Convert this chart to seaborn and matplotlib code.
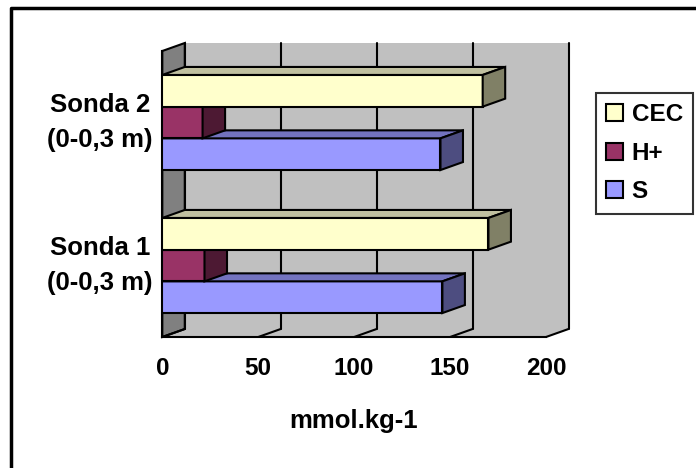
import numpy as np
import pandas as pd
import matplotlib
matplotlib.use("Agg")
import matplotlib.pyplot as plt
from matplotlib.patches import Polygon, Patch, Rectangle
from matplotlib.lines import Line2D
import seaborn as sns

# ---- data ----
categories = ["Sonda 2\n(0-0,3 m)", "Sonda 1\n(0-0,3 m)"]
series = ["CEC", "H+", "S"]
cec = [167, 170]
hplus = [21, 22]
s_vals = [145, 146]
x_ticks = [0, 50, 100, 150, 200]
x_label = "mmol.kg-1"

front_colors = {"CEC": "#FFFFCC", "H+": "#993366", "S": "#9999FF"}
top_colors = {"CEC": "#C0C0A0", "H+": "#73264D", "S": "#7373BF"}
side_colors = {"CEC": "#808066", "H+": "#4D1933", "S": "#4D4D80"}

df = pd.DataFrame({
    "cat": categories * 3,
    "series": ["CEC"] * 2 + ["H+"] * 2 + ["S"] * 2,
    "value": cec + hplus + s_vals,
})

sns.set_style("white")
plt.rcParams["font.family"] = ["Liberation Sans", "DejaVu Sans"]
plt.rcParams["font.weight"] = "bold"
for k in ["text.color", "axes.labelcolor", "xtick.color", "ytick.color",
          "xtick.labelcolor", "ytick.labelcolor"]:
    plt.rcParams[k] = "black"

W, H = 696, 468
fig = plt.figure(figsize=(W / 100, H / 100), dpi=100)
ax_left, ax_right, ax_top, ax_bot = 162.3, 546.0, 51.0, 337.0
ax = fig.add_axes([ax_left / W, 1 - ax_bot / H, (ax_right - ax_left) / W, (ax_bot - ax_top) / H])
ax.set_facecolor("white")

sns.barplot(data=df, y="cat", x="value", hue="series", order=categories,
            hue_order=series, palette=front_colors, orient="h", width=0.665,
            saturation=1, edgecolor="black", linewidth=1.5, legend=False, ax=ax)
bars = [p for p in ax.patches if isinstance(p, Rectangle) and p.get_width() > 0]

ax.set_xlim(0, 200)
ax.set_ylim(1.5, -0.5)

# 3D depth offset (px -> data)
DXp, DYp = 22.5, 8.0
DX = DXp * 200 / (ax_right - ax_left)
DY = DYp * 2 / (ax_bot - ax_top)
y_top, y_bot = -0.5, 1.5

# walls
ax.add_patch(Polygon([(DX, y_top - DY), (200 + DX, y_top - DY), (200 + DX, y_bot - DY), (DX, y_bot - DY)],
                     closed=True, facecolor="#C0C0C0", edgecolor="none", zorder=0.5, clip_on=False))
ax.add_patch(Polygon([(0, y_bot), (200, y_bot), (200 + DX, y_bot - DY), (DX, y_bot - DY)],
                     closed=True, facecolor="#C0C0C0", edgecolor="none", zorder=0.5, clip_on=False))
ax.add_patch(Polygon([(0, y_top), (DX, y_top - DY), (DX, y_bot - DY), (0, y_bot)],
                     closed=True, facecolor="#808080", edgecolor="black", linewidth=1.5,
                     zorder=0.8, clip_on=False))
for v in x_ticks:
    ax.plot([v + DX, v + DX], [y_top - DY, y_bot - DY], color="black", lw=1.5, zorder=0.9, clip_on=False)
    ax.plot([v, v + DX], [y_bot, y_bot - DY], color="black", lw=1.5, zorder=0.9, clip_on=False)

# 3D faces for each bar
hex_to_series = {matplotlib.colors.to_hex(c): k for k, c in front_colors.items()}
bars_sorted = sorted(bars, key=lambda p: -p.get_y())
for rank, p in enumerate(bars_sorted):
    x0 = p.get_x()
    x1 = x0 + p.get_width()
    y0 = p.get_y()
    h = p.get_height()
    key = hex_to_series[matplotlib.colors.to_hex(p.get_facecolor())]
    z = 3 + rank
    p.set_zorder(z)
    top = Polygon([(x0, y0), (x1, y0), (x1 + DX, y0 - DY), (x0 + DX, y0 - DY)], closed=True,
                  facecolor=top_colors[key], edgecolor="black", linewidth=1.5, zorder=z + 0.5, clip_on=False)
    side = Polygon([(x1, y0), (x1, y0 + h), (x1 + DX, y0 + h - DY), (x1 + DX, y0 - DY)], closed=True,
                   facecolor=side_colors[key], edgecolor="black", linewidth=1.5, zorder=z + 0.5, clip_on=False)
    ax.add_patch(top)
    ax.add_patch(side)

# axes styling
for sp in ["top", "right"]:
    ax.spines[sp].set_visible(False)
for sp in ["left", "bottom"]:
    ax.spines[sp].set_color("black")
    ax.spines[sp].set_linewidth(1.5)
    ax.spines[sp].set_zorder(2.5)

ax.set_xticks(x_ticks)
ax.set_xticklabels([str(t) for t in x_ticks], fontsize=17.5, fontweight="bold", color="black")
ax.tick_params(axis="x", direction="out", length=4.5, width=1.1, color="black", pad=10)
ax.set_yticks([0, 1])
ax.set_yticklabels(categories, fontsize=18.5, fontweight="bold", color="black")
ax.set_yticks([-0.5, 0.5, 1.5], minor=True)
ax.tick_params(axis="y", which="major", length=0, pad=7)
ax.tick_params(axis="y", which="minor", direction="out", length=4.5, width=1.1, color="black")
for t in ax.get_yticklabels():
    t.set_multialignment("center")
    t.set_linespacing(1.55)
    t.set_verticalalignment("center")

ax.set_ylabel("")
ax.set_xlabel(x_label, fontsize=18.5, fontweight="bold", color="black")
ax.xaxis.set_label_coords((353.5 - ax_left) / (ax_right - ax_left), (ax_bot - 421) / (ax_bot - ax_top))
ax.xaxis.label.set_va("center")

# legend
handles = [Patch(facecolor=front_colors[k], edgecolor="black", linewidth=1.5) for k in series]
leg = fig.legend(handles, series, loc="upper left", bbox_to_anchor=(596 / W, 1 - 93 / H),
                 frameon=True, fancybox=False, shadow=False, fontsize=17.5,
                 handlelength=0.7, handleheight=0.7, handletextpad=0.35, labelspacing=0.64,
                 borderpad=0.42, borderaxespad=0)
leg.get_frame().set_edgecolor("black")
leg.get_frame().set_linewidth(1.5)
for t in leg.get_texts():
    t.set_fontweight("bold")
    t.set_color("black")

# outer chart border (left and top visible)
fig.add_artist(Line2D([11 / W, 11 / W, 1.0], [0.0, 1 - 8 / H, 1 - 8 / H], transform=fig.transFigure,
                      color="black", lw=2.5))

fig.savefig("out.png", dpi=100)
